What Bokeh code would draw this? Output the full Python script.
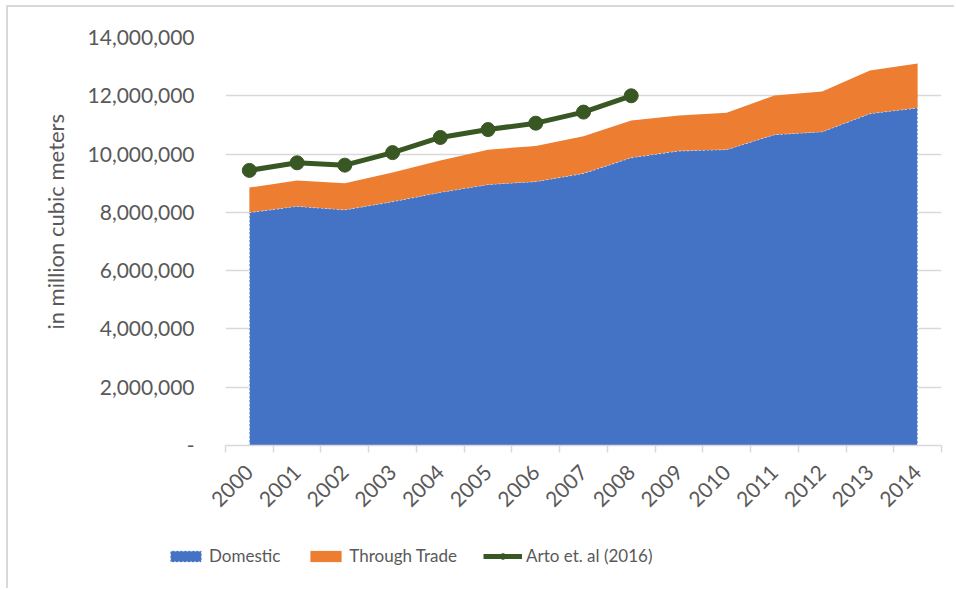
import math
from bokeh.plotting import figure
from bokeh.models import (Range1d, FixedTicker, SingleIntervalTicker, NumeralTickFormatter,
                          Legend, LegendItem)
from bokeh.embed import file_html
from bokeh.resources import INLINE

# ---- data ----
years = [2000, 2001, 2002, 2003, 2004, 2005, 2006, 2007, 2008, 2009, 2010, 2011, 2012, 2013, 2014]
domestic = [8000000, 8210000, 8090000, 8370000, 8690000, 8960000, 9060000, 9340000, 9880000,
            10110000, 10160000, 10670000, 10770000, 11390000, 11590000]
through_trade = [850000, 880000, 910000, 1000000, 1090000, 1190000, 1220000, 1270000, 1270000,
                 1210000, 1260000, 1340000, 1380000, 1480000, 1520000]
arto = [9440000, 9700000, 9620000, 10050000, 10570000, 10840000, 11060000, 11440000, 12000000]
series_names = ["Domestic", "Through Trade", "Arto et. al (2016)"]

total = [d + t for d, t in zip(domestic, through_trade)]
arto_years = years[:len(arto)]

BLUE = "#4472C4"
ORANGE = "#ED7D31"
GREEN = "#385723"
TEXT = "#595959"
GRID = "#D9D9D9"
FONT = "Lato"


def draw_series(fig):
    r_dom = fig.varea(x=years, y1=0, y2=domestic, fill_color=BLUE)
    dom_outline_x = years + years[::-1]
    dom_outline_y = domestic + [0] * len(years)
    r_dom_line = fig.patch(x=dom_outline_x, y=dom_outline_y, fill_color=None,
                           line_color="white", line_dash="2 2", line_width=1.2, line_alpha=0.8)
    r_trade = fig.varea(x=years, y1=domestic, y2=total, fill_color=ORANGE)
    r_line = fig.line(arto_years, arto, line_color=GREEN, line_width=5)
    r_pts = fig.scatter(arto_years, arto, size=14, fill_color=GREEN, line_color=GREEN)
    return r_dom, r_dom_line, r_trade, r_line, r_pts


# ---- main chart ----
p = figure(width=948, height=583, output_backend="svg", toolbar_location=None,
           x_range=Range1d(years[0] - 0.5, years[-1] + 0.5),
           y_range=Range1d(0, 14000000),
           min_border_left=217, min_border_right=15, min_border_top=30, min_border_bottom=145)
p.margin = (7, 0, 0, 8)
p.styles = {"box-shadow": "-2px -2px 0 0 #D9D9D9"}
p.outline_line_color = None
p.background_fill_color = "white"
p.border_fill_color = "white"
draw_series(p)

p.xgrid.grid_line_color = None
p.ygrid.grid_line_color = GRID
p.ygrid.grid_line_width = 1.5

boundaries = [y - 0.5 for y in years] + [years[-1] + 0.5]
xa = p.xaxis[0]
xa.ticker = FixedTicker(ticks=years, minor_ticks=boundaries)
xa.major_tick_line_color = None
xa.minor_tick_line_color = GRID
xa.minor_tick_line_width = 1.5
xa.minor_tick_out = 7
xa.minor_tick_in = 0
xa.axis_line_color = GRID
xa.axis_line_width = 1.5
xa.major_label_orientation = math.pi / 4
xa.major_label_text_font = FONT
xa.major_label_text_font_size = "21px"
xa.major_label_text_color = TEXT
xa.major_label_standoff = 16

ya = p.yaxis[0]
ya.ticker = SingleIntervalTicker(interval=2000000)
ya.formatter = NumeralTickFormatter(format="0,0")
ya.major_label_overrides = {0: "-"}
ya.axis_line_color = None
ya.major_tick_line_color = None
ya.minor_tick_line_color = None
ya.major_tick_out = 0
ya.major_label_standoff = 27
ya.major_label_text_font = FONT
ya.major_label_text_font_size = "21px"
ya.major_label_text_color = TEXT
ya.axis_label = "\u00a0" * 7 + "in million cubic meters"
ya.axis_label_text_font = FONT
ya.axis_label_text_font_size = "22px"
ya.axis_label_text_font_style = "normal"
ya.axis_label_text_color = TEXT
ya.axis_label_standoff = 16

# ---- legend strip (same series styles, data kept outside its empty ranges),
#      laid over the blank bottom band of the main chart ----
lg = figure(width=948, height=60, output_backend="svg", toolbar_location=None,
            x_range=Range1d(0, 1), y_range=Range1d(0, 1),
            x_axis_location=None, y_axis_location=None,
            min_border_left=0, min_border_right=0, min_border_top=0, min_border_bottom=0)
lg.margin = (-60, 0, 0, 8)
lg.outline_line_color = None
lg.grid.grid_line_color = None
lg.background_fill_color = "white"
lg.border_fill_color = "white"
l_dom, l_dom_line, l_trade, l_line, l_pts = draw_series(lg)

legend = Legend(items=[
    LegendItem(label=series_names[0], renderers=[l_dom, l_dom_line]),
    LegendItem(label=series_names[1], renderers=[l_trade]),
    LegendItem(label=series_names[2], renderers=[l_line, l_pts]),
], orientation="horizontal", location=(158, 24))
legend.glyph_width = 39
legend.glyph_height = 14
legend.label_standoff = 4
legend.spacing = 26
legend.padding = 0
legend.margin = 0
legend.border_line_color = None
legend.background_fill_alpha = 0
legend.label_text_font = FONT
legend.label_text_font_size = "17px"
legend.label_text_color = TEXT
lg.add_layout(legend, "center")

open("out.html", "w").write(file_html([p, lg], INLINE))
